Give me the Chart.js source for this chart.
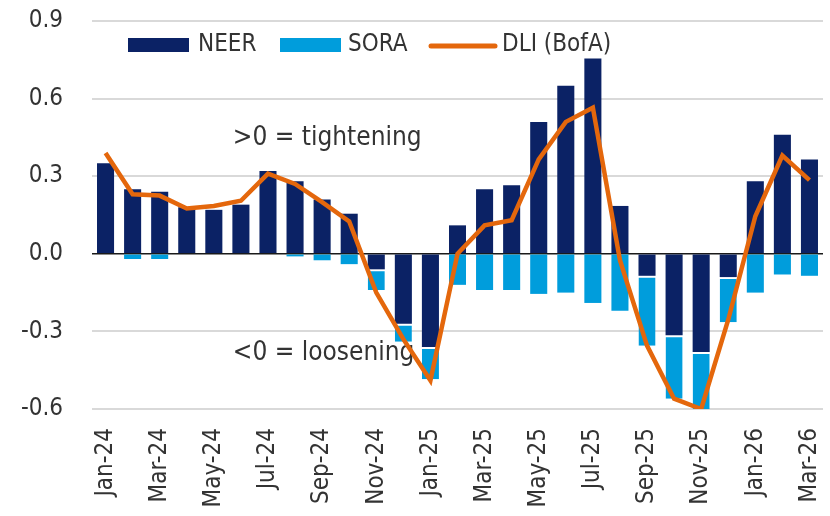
<!DOCTYPE html>
<html>
<head>
<meta charset="utf-8">
<script src="https://cdn.jsdelivr.net/npm/chart.js@4/dist/chart.umd.min.js"></script>
<style>
  body { margin: 0; background: #fff; }
  canvas { display: block; }
</style>
</head>
<body>
<canvas id="grafico" width="830" height="516"></canvas>
<script>
// datos
const meses = ['Jan-24', 'Feb-24', 'Mar-24', 'Apr-24', 'May-24', 'Jun-24', 'Jul-24', 'Aug-24', 'Sep-24',
  'Oct-24', 'Nov-24', 'Dec-24', 'Jan-25', 'Feb-25', 'Mar-25', 'Apr-25', 'May-25', 'Jun-25', 'Jul-25',
  'Aug-25', 'Sep-25', 'Oct-25', 'Nov-25', 'Dec-25', 'Jan-26', 'Feb-26', 'Mar-26'];
const neer = [0.35, 0.25, 0.24, 0.18, 0.17, 0.19, 0.32, 0.28, 0.21, 0.155, -0.06, -0.27, -0.36, 0.11,
  0.25, 0.265, 0.51, 0.65, 0.755, 0.185, -0.085, -0.315, -0.38, -0.09, 0.28, 0.46, 0.365];
const sora = [0, -0.02, -0.02, 0, 0, 0, 0, -0.01, -0.025, -0.04, -0.08, -0.07, -0.125, -0.12,
  -0.14, -0.14, -0.155, -0.15, -0.19, -0.22, -0.27, -0.245, -0.22, -0.175, -0.15, -0.08, -0.085];
const dli = [0.39, 0.23, 0.225, 0.175, 0.185, 0.205, 0.31, 0.27, 0.2, 0.125, -0.15, -0.33, -0.49, 0.0,
  0.11, 0.13, 0.365, 0.51, 0.565, -0.025, -0.355, -0.56, -0.6, -0.255, 0.145, 0.38, 0.285];
const ticksY = [-0.6, -0.3, 0, 0.3, 0.6, 0.9];
const notas = ['>0 = tightening', '<0 = loosening'];

const colorNeer = '#0b2265';
const colorSora = '#009ddc';
const colorDli = '#e4670c';
const colorTexto = '#333333';
const fuente = '"DejaVu Sans Condensed", "Liberation Sans Narrow", "DejaVu Sans", sans-serif';

Chart.defaults.font.family = fuente;
Chart.defaults.font.size = 24;
Chart.defaults.color = colorTexto;

// textos ">0" y "<0" debajo de las series
const notasPlugin = {
  id: 'notas',
  beforeDatasetsDraw(chart) {
    const c = chart.ctx;
    const x = chart.scales.x;
    const y = chart.scales.y;
    c.save();
    c.font = '26px ' + fuente;
    c.fillStyle = colorTexto;
    c.textBaseline = 'middle';
    c.textAlign = 'left';
    c.fillText(notas[0], x.getPixelForValue(4.7), y.getPixelForValue(0.445));
    c.fillText(notas[1], x.getPixelForValue(4.7), y.getPixelForValue(-0.385));
    c.restore();
  }
};

// leyenda dentro del area del grafico
const leyendaPlugin = {
  id: 'leyenda',
  afterDraw(chart) {
    const c = chart.ctx;
    const ds = chart.data.datasets;
    const yMid = 45;
    c.save();
    c.font = '24px ' + fuente;
    c.textBaseline = 'middle';
    c.textAlign = 'left';

    c.fillStyle = ds[0].backgroundColor;
    c.fillRect(128, yMid - 7, 61, 14);
    c.fillStyle = colorTexto;
    c.fillText(ds[0].label, 198, yMid);

    c.fillStyle = ds[1].backgroundColor;
    c.fillRect(280, yMid - 7, 61, 14);
    c.fillStyle = colorTexto;
    c.fillText(ds[1].label, 348, yMid);

    c.strokeStyle = ds[2].borderColor;
    c.lineWidth = 5;
    c.lineCap = 'round';
    c.beginPath();
    c.moveTo(431, yMid + 1);
    c.lineTo(495, yMid + 1);
    c.stroke();
    c.fillStyle = colorTexto;
    c.fillText(ds[2].label, 502, yMid);
    c.restore();
  }
};

// hueco blanco entre NEER y SORA cuando los dos son negativos
const bordeSora = (ctx) => neer[ctx.dataIndex] < 0
  ? { top: 2, bottom: 2, left: 0, right: 0 }
  : 0;

new Chart(document.getElementById('grafico'), {
  type: 'bar',
  data: {
    labels: meses,
    datasets: [
      {
        label: 'NEER',
        data: neer,
        backgroundColor: colorNeer,
        borderWidth: 0,
        order: 1,
      },
      {
        label: 'SORA',
        data: sora,
        backgroundColor: colorSora,
        borderColor: '#ffffff',
        borderWidth: bordeSora,
        borderSkipped: 'end',
        order: 2,
      },
      {
        type: 'line',
        label: 'DLI (BofA)',
        data: dli,
        borderColor: colorDli,
        borderWidth: 4.5,
        pointRadius: 0,
        tension: 0,
        order: 0,
      },
    ],
  },
  options: {
    responsive: false,
    animation: false,
    layout: { padding: { top: 21, right: 7, left: 0, bottom: 0 } },
    datasets: {
      bar: { barPercentage: 0.63, categoryPercentage: 1 },
    },
    plugins: {
      legend: { display: false },
      tooltip: { enabled: false },
    },
    scales: {
      x: {
        stacked: true,
        grid: { display: false, drawTicks: false },
        border: { display: false },
        ticks: {
          autoSkip: false,
          minRotation: 90,
          maxRotation: 90,
          padding: 19,
          color: colorTexto,
          callback: (v, i) => (i % 2 === 0 ? meses[i] : ''),
        },
        afterFit: (scale) => {
          scale.height = 107;
          scale.paddingLeft = 0;
          scale.paddingRight = 0;
        },
      },
      y: {
        stacked: true,
        min: ticksY[0],
        max: ticksY[ticksY.length - 1],
        afterBuildTicks: (scale) => { scale.ticks = ticksY.map((v) => ({ value: v })); },
        grid: {
          drawTicks: false,
          color: (ctx) => (Math.abs(ctx.tick.value) < 1e-9 ? '#1a1a1a' : '#d9d9d9'),
          lineWidth: (ctx) => (Math.abs(ctx.tick.value) < 1e-9 ? 1.5 : 2),
        },
        border: { display: false },
        ticks: {
          padding: 29,
          color: colorTexto,
          callback: (v) => Number(v).toFixed(1),
        },
        afterFit: (scale) => {
          scale.width = 92;
          scale.paddingTop = 0;
          scale.paddingBottom = 0;
        },
      },
    },
  },
  plugins: [notasPlugin, leyendaPlugin],
});
</script>
</body>
</html>
